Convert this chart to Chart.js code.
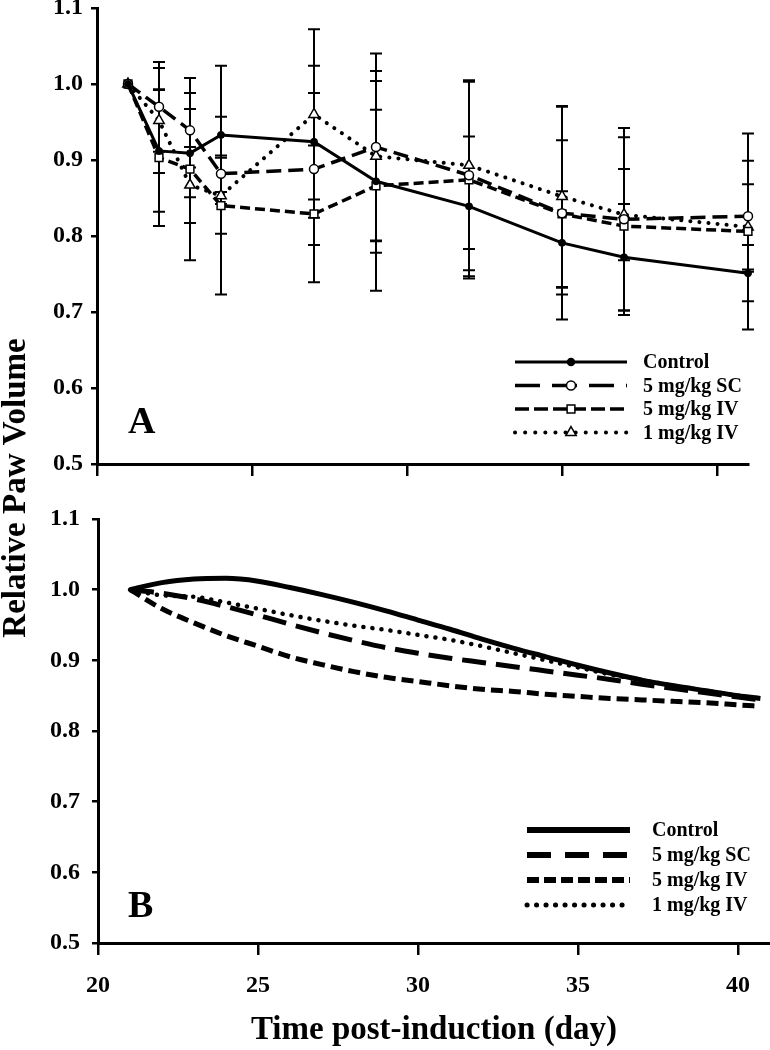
<!DOCTYPE html>
<html><head><meta charset="utf-8">
<script src="https://cdn.jsdelivr.net/npm/chart.js@4.4.1/dist/chart.umd.min.js"></script>
<style>
html,body{margin:0;padding:0;background:#fff;}
#wrap{position:relative;width:770px;height:1050px;overflow:hidden;}
#cB{position:absolute;left:0;top:0;}
#cA{position:absolute;left:0;top:0;}
</style></head><body>
<div id="wrap">
<canvas id="cB" width="770" height="1050"></canvas>
<canvas id="cA" width="770" height="480"></canvas>
</div>
<script>
// ---------- data ----------
const seriesNames = ['Control', '5 mg/kg SC', '5 mg/kg IV', '1 mg/kg IV'];
const panelLabels = ['A', 'B'];
const yAxisTitle = 'Relative Paw Volume';
const xAxisTitle = 'Time post-induction (day)';
const yTickValues = [0.5, 0.6, 0.7, 0.8, 0.9, 1.0, 1.1];
const xTickValues = [20, 25, 30, 35, 40];

// Panel A: observed means and error (+/-) per day
const daysA = [21, 22, 23, 24, 27, 29, 32, 35, 37, 41];
const controlA = [1.000, 0.912, 0.909, 0.933, 0.924, 0.872, 0.839, 0.791, 0.772, 0.751];
const sc5A     = [1.000, 0.970, 0.939, 0.882, 0.888, 0.917, 0.880, 0.830, 0.822, 0.826];
const iv5A     = [1.000, 0.903, 0.888, 0.840, 0.829, 0.866, 0.874, 0.829, 0.813, 0.806];
const iv1A     = [1.000, 0.952, 0.867, 0.853, 0.960, 0.905, 0.893, 0.852, 0.828, 0.812];
const controlErrA = [0, 0.080, 0.058, 0.091, 0.100, 0.094, 0.092, 0.068, 0.070, 0.037];
const sc5ErrA     = [0, 0.059, 0.049, 0.024, 0.100, 0.123, 0.125, 0.140, 0.120, 0.073];
const iv5ErrA     = [0, 0.090, 0.120, 0.117, 0.090, 0.138, 0.130, 0.097, 0.117, 0.129];
const iv1ErrA     = [0, 0.069, 0.050, 0.050, 0.112, 0.112, 0.110, 0.119, 0.060, 0.056];

// Panel B: model curves
const daysB = [21, 22, 23, 24, 25, 26, 27, 28, 29, 30, 31, 32, 33, 34, 35, 36, 37, 38, 39, 40, 40.7];
const controlB = [1.000, 1.010, 1.015, 1.016, 1.012, 1.003, 0.993, 0.982, 0.970, 0.957, 0.944, 0.930, 0.917, 0.905, 0.893, 0.882, 0.872, 0.864, 0.857, 0.850, 0.846];
const sc5B     = [1.000, 0.995, 0.987, 0.976, 0.964, 0.951, 0.939, 0.928, 0.918, 0.910, 0.903, 0.897, 0.891, 0.885, 0.879, 0.873, 0.866, 0.860, 0.854, 0.848, 0.844];
const iv5B     = [1.000, 0.973, 0.953, 0.935, 0.920, 0.905, 0.894, 0.884, 0.876, 0.870, 0.864, 0.859, 0.856, 0.852, 0.849, 0.846, 0.844, 0.842, 0.840, 0.837, 0.835];
const iv1B     = [1.000, 0.992, 0.990, 0.982, 0.973, 0.964, 0.956, 0.949, 0.943, 0.936, 0.929, 0.920, 0.910, 0.900, 0.890, 0.880, 0.872, 0.864, 0.857, 0.850, 0.846];

// ---------- helpers ----------
const FONT = "'Liberation Serif','Times New Roman',serif";
const pts = (xs, ys) => xs.map((x, i) => ({x: x, y: ys[i]}));

function yScaleCfg(width, pad) {
  return {
    type: 'linear', min: 0.5, max: 1.1,
    afterBuildTicks: s => { s.ticks = yTickValues.map(v => ({value: v})); },
    afterFit: s => { s.width = width; s.paddingTop = 0; s.paddingBottom = 0; },
    ticks: { callback: v => Number(v).toFixed(1), color: '#000', autoSkip: false,
             font: {family: FONT, size: 24, weight: 'bold'}, padding: pad },
    grid: { drawOnChartArea: false, drawTicks: true, tickLength: 6, color: '#000', lineWidth: 2.5 },
    border: { display: true, color: '#000', width: 3 }
  };
}

const errorBarsPlugin = {
  id: 'errorBars',
  beforeDatasetsDraw(chart) {
    const ctx = chart.ctx, xs = chart.scales.x, ys = chart.scales.y;
    ctx.save();
    ctx.strokeStyle = '#000'; ctx.lineWidth = 2; ctx.setLineDash([]);
    const cap = 6;
    chart.data.datasets.forEach(ds => {
      if (!ds.errors) return;
      ds.data.forEach((p, j) => {
        const e = ds.errors[j];
        if (!e) return;
        const px = xs.getPixelForValue(p.x);
        const t = ys.getPixelForValue(p.y + e), b = ys.getPixelForValue(p.y - e);
        ctx.beginPath();
        ctx.moveTo(px, t); ctx.lineTo(px, b);
        ctx.moveTo(px - cap, t); ctx.lineTo(px + cap, t);
        ctx.moveTo(px - cap, b); ctx.lineTo(px + cap, b);
        ctx.stroke();
      });
    });
    ctx.restore();
  }
};

const legendPlugin = {
  id: 'boxLegend',
  afterDraw(chart, args, o) {
    const ctx = chart.ctx;
    ctx.save();
    o.items.forEach((it, i) => {
      const y = o.y0 + i * o.dy;
      ctx.beginPath();
      ctx.setLineDash(it.dash);
      ctx.lineWidth = it.width;
      ctx.lineCap = it.cap || 'butt';
      ctx.strokeStyle = '#000';
      ctx.moveTo(o.x0, y); ctx.lineTo(o.x1, y); ctx.stroke();
      ctx.setLineDash([]);
      ctx.lineCap = 'butt';
      if (it.marker) {
        ctx.fillStyle = it.markerFill; ctx.strokeStyle = '#000'; ctx.lineWidth = 1.5;
        Chart.helpers.drawPoint(ctx, {pointStyle: it.marker, radius: it.radius, rotation: 0, borderWidth: 1.5}, (o.x0 + o.x1) / 2, y);
      }
      ctx.fillStyle = '#000';
      ctx.font = 'bold ' + o.fontSize + 'px ' + FONT;
      ctx.textAlign = 'left'; ctx.textBaseline = 'middle';
      ctx.fillText(seriesNames[i], o.textX, y + 1);
    });
    ctx.restore();
  }
};

const panelLetterPlugin = {
  id: 'panelLetter',
  afterDraw(chart, args, o) {
    const ctx = chart.ctx;
    ctx.save();
    ctx.fillStyle = '#000';
    ctx.font = 'bold 38px ' + FONT;
    ctx.textAlign = 'left'; ctx.textBaseline = 'alphabetic';
    ctx.fillText(o.text, o.x, o.y);
    if (o.yTitle) {
      ctx.translate(o.yTitle.x, o.yTitle.y);
      ctx.rotate(-Math.PI / 2);
      ctx.font = 'bold 33px ' + FONT;
      ctx.textAlign = 'center';
      ctx.fillText(o.yTitle.text, 0, 0);
    }
    ctx.restore();
  }
};

Chart.defaults.animation = false;

// ---------- Panel A ----------
new Chart(document.getElementById('cA'), {
  type: 'line',
  data: { datasets: [
    { label: seriesNames[0], data: pts(daysA, controlA), errors: controlErrA,
      borderColor: '#000', borderWidth: 3, pointStyle: 'circle', pointRadius: 3.5,
      pointBackgroundColor: '#000', pointBorderColor: '#000', pointBorderWidth: 1, clip: false },
    { label: seriesNames[1], data: pts(daysA, sc5A), errors: sc5ErrA,
      borderColor: '#000', borderWidth: 3.5, borderDash: [15, 7], pointStyle: 'circle', pointRadius: 4.5,
      pointBackgroundColor: '#fff', pointBorderColor: '#000', pointBorderWidth: 1.5, clip: false },
    { label: seriesNames[2], data: pts(daysA, iv5A), errors: iv5ErrA,
      borderColor: '#000', borderWidth: 3.5, borderDash: [10, 5], pointStyle: 'rect', pointRadius: 5.5,
      pointBackgroundColor: '#fff', pointBorderColor: '#000', pointBorderWidth: 1.5, clip: false },
    { label: seriesNames[3], data: pts(daysA, iv1A), errors: iv1ErrA,
      borderColor: '#000', borderWidth: 4, borderDash: [0.1, 9], borderCapStyle: 'round', pointStyle: 'triangle', pointRadius: 6,
      pointBackgroundColor: '#fff', pointBorderColor: '#000', pointBorderWidth: 1.5, clip: false }
  ]},
  options: {
    responsive: false, devicePixelRatio: 1, events: [],
    layout: { padding: {top: 8, right: 22, left: 0, bottom: 0} },
    scales: {
      x: { type: 'linear', min: 20, max: 41, position: 'bottom',
           afterBuildTicks: s => { s.ticks = xTickValues.map(v => ({value: v})); },
           afterFit: s => { s.height = 16; s.paddingLeft = 0; s.paddingRight = 0; },
           ticks: { display: false },
           grid: { drawOnChartArea: false, drawTicks: true, tickLength: 12, color: '#000', lineWidth: 2.5 },
           border: { display: true, color: '#000', width: 3 } },
      y: yScaleCfg(97, 8)
    },
    plugins: {
      legend: { display: false }, tooltip: { enabled: false },
      boxLegend: { x0: 515, x1: 627, y0: 362, dy: 23.5, textX: 643, fontSize: 20, items: [
        { dash: [], width: 3, marker: 'circle', radius: 3.5, markerFill: '#000' },
        { dash: [25, 12], width: 3.5, marker: 'circle', radius: 4.5, markerFill: '#fff' },
        { dash: [14, 5], width: 3.5, marker: 'rect', radius: 5.5, markerFill: '#fff' },
        { dash: [0.1, 10], width: 4, cap: 'round', marker: 'triangle', radius: 6, markerFill: '#fff' }
      ]},
      panelLetter: { text: panelLabels[0], x: 128, y: 433 }
    }
  },
  plugins: [errorBarsPlugin, legendPlugin, panelLetterPlugin]
});

// ---------- Panel B ----------
new Chart(document.getElementById('cB'), {
  type: 'line',
  data: { datasets: [
    { label: seriesNames[0], data: pts(daysB, controlB), borderColor: '#000', borderWidth: 5,
      pointRadius: 0, cubicInterpolationMode: 'monotone' },
    { label: seriesNames[1], data: pts(daysB, sc5B), borderColor: '#000', borderWidth: 5, borderDash: [24, 10],
      pointRadius: 0, cubicInterpolationMode: 'monotone' },
    { label: seriesNames[2], data: pts(daysB, iv5B), borderColor: '#000', borderWidth: 5, borderDash: [12, 6],
      pointRadius: 0, cubicInterpolationMode: 'monotone' },
    { label: seriesNames[3], data: pts(daysB, iv1B), borderColor: '#000', borderWidth: 4.5, borderDash: [0.1, 9],
      borderCapStyle: 'round', pointRadius: 0, cubicInterpolationMode: 'monotone' }
  ]},
  options: {
    responsive: false, devicePixelRatio: 1, events: [],
    layout: { padding: {top: 519, right: 0, left: 0, bottom: 0} },
    scales: {
      x: { type: 'linear', min: 20, max: 41, position: 'bottom',
           afterBuildTicks: s => { s.ticks = xTickValues.map(v => ({value: v})); },
           afterFit: s => { s.height = 107; s.paddingLeft = 0; s.paddingRight = 0; },
           ticks: { color: '#000', autoSkip: false, maxRotation: 0, padding: 16,
                    font: {family: FONT, size: 24, weight: 'bold'} },
           grid: { drawOnChartArea: false, drawTicks: true, tickLength: 12, color: '#000', lineWidth: 2.5 },
           border: { display: true, color: '#000', width: 3 },
           title: { display: true, text: xAxisTitle, color: '#000', padding: 0,
                    font: {family: FONT, size: 33, weight: 'bold'} } },
      y: yScaleCfg(98, 12)
    },
    plugins: {
      legend: { display: false }, tooltip: { enabled: false },
      boxLegend: { x0: 527, x1: 630, y0: 830, dy: 25, textX: 652, fontSize: 20, items: [
        { dash: [], width: 6 },
        { dash: [24, 14], width: 6 },
        { dash: [12, 5], width: 6 },
        { dash: [0.1, 9.4], width: 5, cap: 'round' }
      ]},
      panelLetter: { text: panelLabels[1], x: 128, y: 917,
                     yTitle: { text: yAxisTitle, x: 25, y: 488 } }
    }
  },
  plugins: [legendPlugin, panelLetterPlugin]
});
</script>
</body></html>
